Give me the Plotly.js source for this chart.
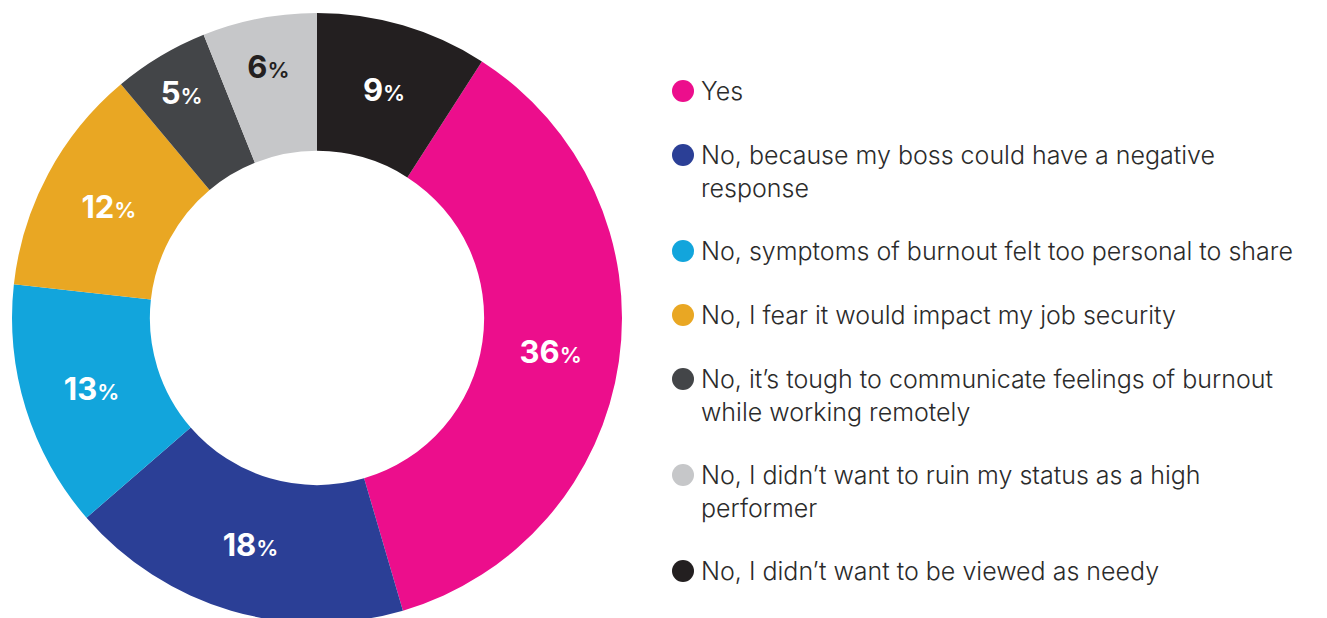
<!DOCTYPE html>
<html>
<head>
<meta charset="utf-8">
<script src="https://cdn.plot.ly/plotly-3.0.1.min.js"></script>
<style>html,body{margin:0;padding:0;background:#fff;overflow:hidden;}#chart{width:1327px;height:632px;}</style>
</head>
<body>
<div id="chart"></div>
<script>
// Data
const labels = [
  "Yes",
  "No, because my boss could have a negative<br>response",
  "No, symptoms of burnout felt too personal to share",
  "No, I fear it would impact my job security",
  "No, it\u2019s tough to communicate feelings of burnout<br>while working remotely",
  "No, I didn\u2019t want to ruin my status as a high<br>performer",
  "No, I didn\u2019t want to be viewed as needy"
];
const values = [36, 18, 13, 12, 5, 6, 9];
const colors = ["#EC0E8C", "#2B3F96", "#12A5DC", "#E9A723", "#434548", "#C6C7C9", "#231F20"];
const textColors = ["#ffffff", "#ffffff", "#ffffff", "#ffffff", "#ffffff", "#231F20", "#ffffff"];

const W = 1327, H = 632; // plot is slightly taller than the 618px window; the bottom is cut
const total = values.reduce((a, b) => a + b, 0);
const lastShare = values[values.length - 1] / total;

const texts = values.map(v => v + "<span style='font-size:22px;font-weight:600'>%</span>");

// donut geometry (pixels from top-left)
const cx = 317, cy = 318, R = 305;

const trace = {
  type: "pie",
  values: values,
  labels: labels.map(l => l.replace(/<br>/g, " ")),
  marker: {colors: colors, line: {width: 0}},
  sort: false,
  direction: "clockwise",
  rotation: lastShare * 360,
  hole: 0.548,
  text: texts,
  texttemplate: "%{text}",
  textposition: "inside",
  insidetextorientation: "horizontal",
  insidetextfont: {family: "Inter, 'Open Sans', sans-serif", size: 31, color: textColors, weight: 700},
  domain: {x: [(cx - R) / W, (cx + R) / W], y: [(H - cy - R) / H, (H - cy + R) / H]},
  showlegend: false,
  hoverinfo: "label+value"
};

// Custom legend (circles + text)
const annotations = [];
const shapes = [];
const lineH = 32;
let yLine = 91;
const markerX = 683, textX = 699;
labels.forEach((lab, i) => {
  const n = lab.split("<br>").length;
  const midY = yLine + (n - 1) * lineH / 2;
  annotations.push({
    xref: "paper", yref: "paper",
    x: textX / W, y: 1 - midY / H,
    xanchor: "left", yanchor: "middle", align: "left",
    showarrow: false,
    text: lab,
    font: {family: "Inter, 'Noto Sans', sans-serif", size: 25, color: "#2b2b2b", weight: 300}
  });
  shapes.push({
    type: "circle", xref: "paper", yref: "paper",
    xsizemode: "pixel", ysizemode: "pixel",
    xanchor: markerX / W, yanchor: 1 - yLine / H,
    x0: -11, x1: 11, y0: -11, y1: 11,
    fillcolor: colors[i], line: {width: 0}
  });
  yLine += n * lineH + lineH;
});

const layout = {
  width: W, height: H,
  margin: {l: 0, r: 0, t: 0, b: 0},
  paper_bgcolor: "#ffffff",
  plot_bgcolor: "#ffffff",
  showlegend: false,
  annotations: annotations,
  shapes: shapes
};

Plotly.newPlot("chart", [trace], layout, {displayModeBar: false, staticPlot: true});
</script>
</body>
</html>
